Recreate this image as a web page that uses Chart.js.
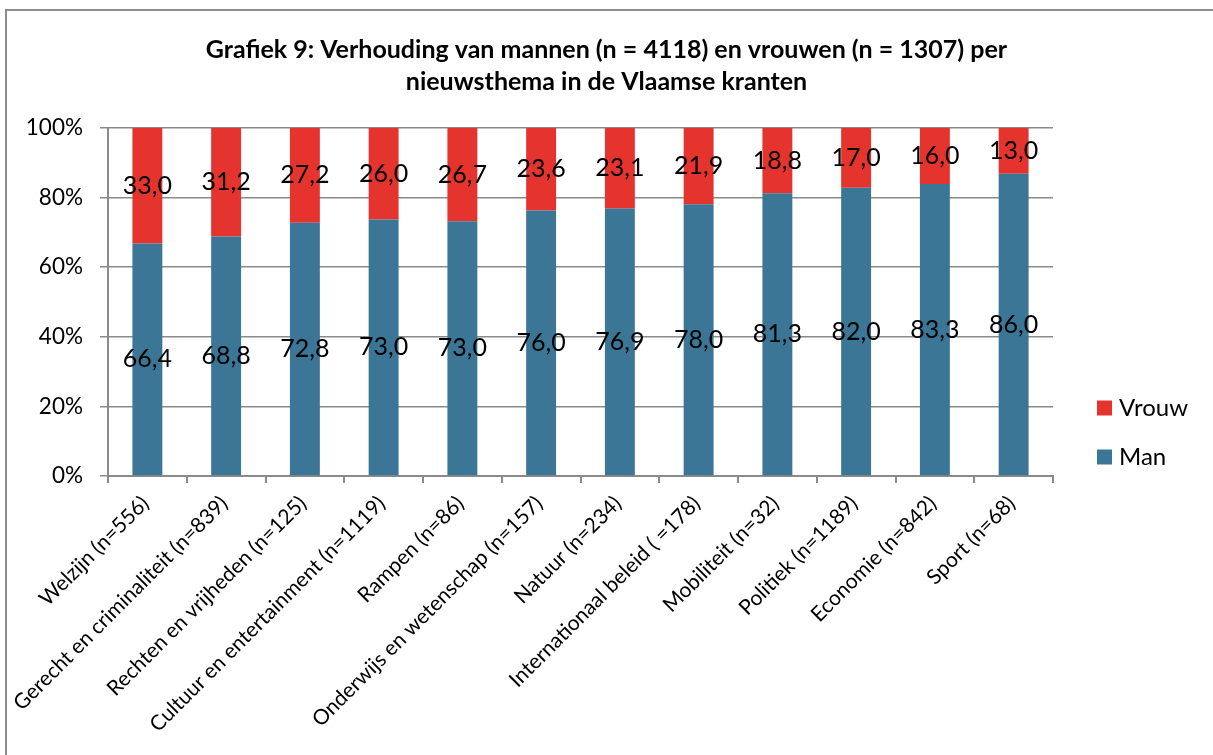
<!DOCTYPE html>
<html>
<head>
<meta charset="utf-8">
<script src="https://cdn.jsdelivr.net/npm/chart.js@4.4.1/dist/chart.umd.min.js"></script>
<style>
html,body{margin:0;padding:0;background:#fff;overflow:hidden;}
#wrap{position:relative;width:1213px;height:755px;}
#frame{position:absolute;left:5px;top:9px;width:1400px;height:1000px;border:2px solid #8c8c8c;box-sizing:border-box;pointer-events:none;}
canvas{position:absolute;left:0;top:0;}
</style>
</head>
<body>
<div id="wrap">
<canvas id="c" width="1213" height="755"></canvas>
<div id="frame"></div>
</div>
<script>
const categories = ["Welzijn (n=556)","Gerecht en criminaliteit (n=839)","Rechten en vrijheden (n=125)","Cultuur en entertainment (n=1119)","Rampen (n=86)","Onderwijs en wetenschap (n=157)","Natuur (n=234)","Internationaal beleid ( =178)","Mobiliteit (n=32)","Politiek (n=1189)","Economie (n=842)","Sport (n=68)"];
const manValues = [66.4,68.8,72.8,73.0,73.0,76.0,76.9,78.0,81.3,82.0,83.3,86.0];
const vrouwValues = [33.0,31.2,27.2,26.0,26.7,23.6,23.1,21.9,18.8,17.0,16.0,13.0];
const yTicks = [0,20,40,60,80,100];
const titleLines = ["Grafiek 9: Verhouding van mannen (n = 4118) en vrouwen (n = 1307) per","nieuwsthema in de Vlaamse kranten"];

const totals = manValues.map((v,i)=>v+vrouwValues[i]);
const manShare = manValues.map((v,i)=>v/totals[i]*100);
const vrouwShare = vrouwValues.map((v,i)=>v/totals[i]*100);

const labelPlugin = {
  id:'barLabels',
  afterDatasetsDraw(chart){
    const ctx = chart.ctx;
    ctx.save();
    ctx.font = '25px Lato';
    ctx.fillStyle = '#000';
    ctx.textAlign = 'center';
    ctx.textBaseline = 'middle';
    chart.data.datasets.forEach((ds,di)=>{
      const meta = chart.getDatasetMeta(di);
      meta.data.forEach((el,i)=>{
        const txt = ds.raw[i].toFixed(1).replace('.',',');
        ctx.fillText(txt, el.x, (el.y+el.base)/2);
      });
    });
    ctx.restore();
  }
};

const legendPlugin = {
  id:'sideLegend',
  afterDraw(chart){
    const ctx = chart.ctx;
    const area = chart.chartArea;
    const items = chart.data.datasets.map(d=>({label:d.label,color:d.backgroundColor})).reverse();
    const x = area.right + 44;
    const spacing = 49;
    const y0 = 432 - spacing*(items.length-1)/2;
    ctx.save();
    ctx.font = '24px Lato';
    ctx.textBaseline = 'middle';
    ctx.textAlign = 'left';
    items.forEach((it,i)=>{
      const y = y0 + i*spacing;
      ctx.fillStyle = it.color;
      ctx.fillRect(x, y-7, 15, 15);
      ctx.fillStyle = '#000';
      ctx.fillText(it.label, x+22, y+1);
    });
    ctx.restore();
  }
};

new Chart(document.getElementById('c'),{
  type:'bar',
  data:{
    labels:categories,
    datasets:[
      {label:'Man',data:manShare,raw:manValues,backgroundColor:'#3b7696',barPercentage:0.38,categoryPercentage:1},
      {label:'Vrouw',data:vrouwShare,raw:vrouwValues,backgroundColor:'#e5332e',barPercentage:0.38,categoryPercentage:1}
    ]
  },
  options:{
    responsive:false,
    animation:false,
    layout:{padding:0},
    plugins:{
      title:{display:true,text:titleLines,color:'#000',font:{family:'Lato',size:25,weight:'bold',lineHeight:1.28},padding:{top:34,bottom:30}},
      legend:{display:false},
      tooltip:{enabled:false}
    },
    scales:{
      x:{stacked:true,afterFit(s){s.height=279;},
         grid:{offset:true,drawOnChartArea:false,drawTicks:true,tickLength:7,color:'#8a8a8a',lineWidth:2},border:{color:'#8a8a8a',width:2},
         ticks:{color:'#000',font:{family:'Lato',size:21},minRotation:45,maxRotation:45,padding:8,labelOffset:-2}},
      y:{stacked:true,min:0,max:100,afterFit(s){s.width=108;},afterBuildTicks(s){s.ticks=yTicks.map(v=>({value:v}));},
         grid:{color:'#8a8a8a',lineWidth:1.5,tickLength:8},border:{color:'#8a8a8a',width:2},
         ticks:{color:'#000',font:{family:'Lato',size:22.5},padding:17,callback:v=>v+'%'}},
      legendSpace:{position:'right',display:true,afterFit(s){s.width=160;},
         grid:{display:false,drawTicks:false},border:{display:false},ticks:{display:false}}
    }
  },
  plugins:[labelPlugin,legendPlugin]
});
</script>
</body>
</html>
